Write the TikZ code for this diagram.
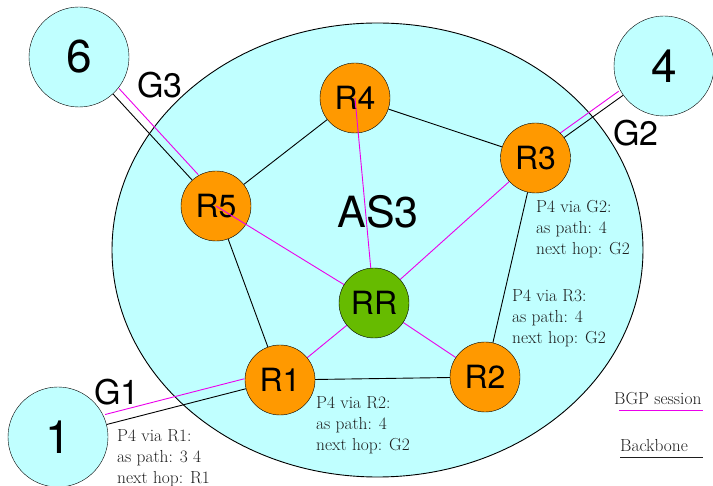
\documentclass[tikz,border=0pt]{standalone}
\usepackage{fontspec}
\newfontfamily\hv{TeX Gyre Heros}
\definecolor{cyanfill}{RGB}{192,255,255}
\definecolor{orangefill}{RGB}{255,153,0}
\definecolor{greenfill}{RGB}{102,187,0}
\definecolor{bgpcol}{RGB}{235,0,235}
\definecolor{notecol}{RGB}{30,30,30}
\pgfdeclarelayer{bg}
\pgfdeclarelayer{edges}
\pgfdeclarelayer{fg}
\pgfsetlayers{bg,edges,main,fg}
\begin{document}
\begin{tikzpicture}[x=1pt,y=-1pt,
  asbox/.style={circle,draw=black,fill=cyanfill,minimum size=100pt,inner sep=0pt,font=\hv\fontsize{46}{46}\selectfont},
  rtr/.style={circle,draw=black,fill=orangefill,minimum size=70pt,inner sep=0pt,font=\hv\fontsize{32}{32}\selectfont},
  rrnode/.style={rtr,fill=greenfill},
  glabel/.style={font=\hv\fontsize{34}{34}\selectfont,inner sep=0pt},
  note/.style={anchor=north west,inner sep=0pt,align=left,text=notecol,font=\fontsize{17.4}{21}\selectfont},
  legendtxt/.style={anchor=base west,inner sep=0pt,text=notecol,font=\fontsize{17.4}{21}\selectfont},
  backbone/.style={draw=black,line width=0.9pt},
  bgp/.style={draw=bgpcol,line width=0.9pt},
]
\useasboundingbox (0,0) rectangle (713,486);

% AS3 area
\begin{pgfonlayer}{bg}
\draw[fill=cyanfill,line width=0.9pt] (377.5,250) ellipse [x radius=265.5pt, y radius=227pt];
\end{pgfonlayer}
\node[font=\hv\fontsize{43}{43}\selectfont,inner sep=0pt] (as3) at (378,212) {AS3};

% external ASes
\node[asbox] (as6) at (79,57) {6};
\node[asbox] (as4) at (664,66) {4};
\node[asbox] (as1) at (58,437) {1};

% routers
\node[rtr] (R4) at (355,98) {R4};
\node[rtr] (R3) at (535.5,158) {R3};
\node[rtr] (R5) at (216,206) {R5};
\node[rrnode] (RR) at (374,303) {RR};
\node[rtr] (R2) at (485,377) {R2};
\node[rtr] (R1) at (280,380) {R1};

% gateway labels
\node[glabel] (g3) at (160,85) {G3};
\node[glabel] (g2) at (636,133) {G2};
\node[glabel] (g1) at (117,392) {G1};

% edges
\begin{pgfonlayer}{edges}
\draw[backbone] (R5) -- (R4);
\draw[backbone] (R4) -- (R3);
\draw[backbone] (R3) -- (R2);
\draw[backbone] (R2) -- (R1);
\draw[backbone] (R1) -- (R5);
\draw[backbone] (as6) -- (R5);
\draw[backbone] (as4) -- (R3);
\draw[backbone] (as1) -- (R1);
\draw[bgp,transform canvas={shift={(6pt,5.5pt)}}] (as6) -- (R5);
\draw[bgp,transform canvas={shift={(-4.5pt,4pt)}}] (as4) -- (R3);
\draw[bgp,transform canvas={shift={(-1.5pt,10pt)}}] (as1) -- (R1);
\draw[bgp] (RR) -- (R3);
\draw[bgp] (RR) -- (R2);
\draw[bgp] (RR) -- (R1);
\end{pgfonlayer}
\begin{pgfonlayer}{fg}
\draw[bgp] (R5.center) -- (RR);
\draw[bgp] (R4.center) -- (RR);
\end{pgfonlayer}

% route notes
\node[note] (n3) at (536,200) {P4 via G2:\\as path: 4\\next hop: G2};
\node[note] (n2) at (512,289) {P4 via R3:\\as path: 4\\next hop: G2};
\node[note] (nr2) at (316,396) {P4 via R2:\\as path: 4\\next hop: G2};
\node[note] (n1) at (117,429) {P4 via R1:\\as path: 3 4\\next hop: R1};

% legend
\node[legendtxt] (lbgp) at (614,405) {BGP session};
\node[legendtxt] (lbb) at (620,452) {Backbone};
\coordinate (lb1) at (619,410);
\coordinate (lb2) at (703,410);
\coordinate (lk1) at (620,457);
\coordinate (lk2) at (703,457);
\draw[bgp] (lb1) -- (lb2);
\draw[draw=notecol,line width=0.9pt] (lk1) -- (lk2);
\end{tikzpicture}
\end{document}
